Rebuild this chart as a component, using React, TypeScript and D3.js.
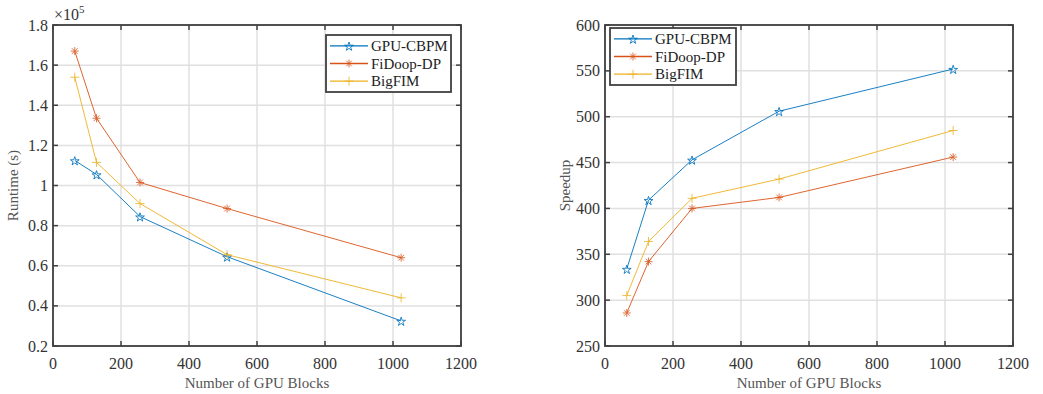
import React from "react";
import * as d3 from "d3";

const blocks = [64, 128, 256, 512, 1024];
const seriesNames = ["GPU-CBPM", "FiDoop-DP", "BigFIM"];
const runtimeGpuCbpm = [1.125, 1.055, 0.845, 0.645, 0.325];
const runtimeFiDoop = [1.67, 1.335, 1.015, 0.885, 0.64];
const runtimeBigFim = [1.54, 1.115, 0.91, 0.655, 0.44];
const speedupGpuCbpm = [334, 409, 453, 506, 552];
const speedupFiDoop = [286, 342, 400, 412, 456];
const speedupBigFim = [305, 364, 411, 432, 485];
const xTicks = [0, 200, 400, 600, 800, 1000, 1200];
const runtimeTicks = [0.2, 0.4, 0.6, 0.8, 1, 1.2, 1.4, 1.6, 1.8];
const speedupTicks = [250, 300, 350, 400, 450, 500, 550, 600];

const colors = ["#0072BD", "#D95319", "#EDB120"];
const markers = ["star", "asterisk", "plus"];
const FONT = "'Liberation Serif', 'Times New Roman', serif";
const AXIS = "#404040";
const GRID = "#e0e0e0";

function Marker({ kind, x, y, color }: { kind: string; x: number; y: number; color: string }) {
  if (kind === "star") {
    const p = d3.symbol(d3.symbolStar, 24)();
    return (
      <path d={p || ""} transform={`translate(${x},${y + 0.8})`} fill="none" stroke={color} strokeWidth={1} opacity={0.85} />
    );
  }
  if (kind === "asterisk") {
    const r = 4;
    const d = r * Math.SQRT1_2;
    return (
      <g transform={`translate(${x},${y})`} stroke={color} strokeWidth={1} opacity={0.8}>
        <line x1={-r} y1={0} x2={r} y2={0} />
        <line x1={0} y1={-r} x2={0} y2={r} />
        <line x1={-d} y1={-d} x2={d} y2={d} />
        <line x1={-d} y1={d} x2={d} y2={-d} />
      </g>
    );
  }
  const r = 4.5;
  return (
    <g transform={`translate(${x},${y})`} stroke={color} strokeWidth={1} opacity={0.8}>
      <line x1={-r} y1={0} x2={r} y2={0} />
      <line x1={0} y1={-r} x2={0} y2={r} />
    </g>
  );
}

type PanelProps = {
  left: number;
  right: number;
  top: number;
  bottom: number;
  yDomain: [number, number];
  yTicks: number[];
  yFormat: (v: number) => string;
  series: number[][];
  yLabel: string;
  legend: { x: number; y: number; w: number; h: number };
  exponent?: boolean;
};

function Panel(p: PanelProps) {
  const x = d3.scaleLinear().domain([0, 1200]).range([p.left, p.right]);
  const y = d3.scaleLinear().domain(p.yDomain).range([p.bottom, p.top]);
  const line = d3
    .line<number>()
    .x((_, i) => x(blocks[i]))
    .y((v) => y(v));
  const tick = 5;
  const rowH = (p.legend.h - 4) / 3;
  return (
    <g fontFamily={FONT}>
      {/* grid */}
      {xTicks.map((t) => (
        <line key={"gx" + t} x1={x(t)} x2={x(t)} y1={p.top} y2={p.bottom} stroke={GRID} strokeWidth={1.5} />
      ))}
      {p.yTicks.map((t) => (
        <line key={"gy" + t} x1={p.left} x2={p.right} y1={y(t)} y2={y(t)} stroke={GRID} strokeWidth={1.5} />
      ))}
      {/* series */}
      {p.series.map((vals, si) => (
        <g key={si}>
          <path d={line(vals) || ""} fill="none" stroke={colors[si]} strokeWidth={0.9} />
          {vals.map((v, i) => (
            <Marker key={i} kind={markers[si]} x={x(blocks[i])} y={y(v)} color={colors[si]} />
          ))}
        </g>
      ))}
      {/* box and ticks */}
      <rect x={p.left} y={p.top} width={p.right - p.left} height={p.bottom - p.top} fill="none" stroke={AXIS} strokeWidth={1.8} />
      {xTicks.map((t) => (
        <g key={"tx" + t}>
          <line x1={x(t)} x2={x(t)} y1={p.bottom} y2={p.bottom - tick} stroke={AXIS} strokeWidth={1.5} />
          <line x1={x(t)} x2={x(t)} y1={p.top} y2={p.top + tick} stroke={AXIS} strokeWidth={1.5} />
          <text x={x(t)} y={p.bottom + 23} textAnchor="middle" fontSize={16} fill="#333">
            {t}
          </text>
        </g>
      ))}
      {p.yTicks.map((t) => (
        <g key={"ty" + t}>
          <line x1={p.left} x2={p.left + tick} y1={y(t)} y2={y(t)} stroke={AXIS} strokeWidth={1.5} />
          <line x1={p.right} x2={p.right - tick} y1={y(t)} y2={y(t)} stroke={AXIS} strokeWidth={1.5} />
          <text x={p.left - 5} y={y(t) + 5.5} textAnchor="end" fontSize={16} fill="#333">
            {p.yFormat(t)}
          </text>
        </g>
      ))}
      {p.exponent && (
        <text x={p.left + 1} y={p.top - 5} fontSize={16} fill="#333">
          <tspan>×10</tspan>
          <tspan dy={-7} fontSize={11}>
            5
          </tspan>
        </text>
      )}
      {/* axis titles */}
      <text x={(p.left + p.right) / 2} y={388} textAnchor="middle" fontSize={15} fill="#555">
        Number of GPU Blocks
      </text>
      <text
        transform={`translate(${p.left - 35},${(p.top + p.bottom) / 2}) rotate(-90)`}
        textAnchor="middle"
        fontSize={15}
        fill="#555"
      >
        {p.yLabel}
      </text>
      {/* legend */}
      <rect x={p.legend.x} y={p.legend.y} width={p.legend.w} height={p.legend.h} fill="#fff" stroke={AXIS} strokeWidth={1.8} />
      {seriesNames.map((name, i) => {
        const cy = p.legend.y + 2 + rowH * (i + 0.5);
        const lx0 = p.legend.x + 4;
        const lx1 = p.legend.x + 42;
        return (
          <g key={name}>
            <line x1={lx0} x2={lx1} y1={cy} y2={cy} stroke={colors[i]} strokeWidth={1.3} />
            <Marker kind={markers[i]} x={(lx0 + lx1) / 2} y={cy} color={colors[i]} />
            <text x={lx1 + 3} y={cy + 5} fontSize={15} fill="#222">
              {name}
            </text>
          </g>
        );
      })}
    </g>
  );
}

export default function App() {
  return (
    <svg
      width={1043}
      height={394}
      style={{ display: "block", position: "absolute", left: 0, top: 0 }}
    >
      <rect width={1043} height={394} fill="#fff" />
      <Panel
        left={53}
        right={461}
        top={25}
        bottom={346}
        yDomain={[0.2, 1.8]}
        yTicks={runtimeTicks}
        yFormat={(v) => (v === 1 ? "1" : d3.format(".1f")(v))}
        series={[runtimeGpuCbpm, runtimeFiDoop, runtimeBigFim]}
        yLabel="Runtime (s)"
        legend={{ x: 326, y: 35, w: 125, h: 57 }}
        exponent
      />
      <Panel
        left={605}
        right={1013}
        top={25}
        bottom={346}
        yDomain={[250, 600]}
        yTicks={speedupTicks}
        yFormat={(v) => String(v)}
        series={[speedupGpuCbpm, speedupFiDoop, speedupBigFim]}
        yLabel="Speedup"
        legend={{ x: 610, y: 28, w: 126, h: 57 }}
      />
    </svg>
  );
}
